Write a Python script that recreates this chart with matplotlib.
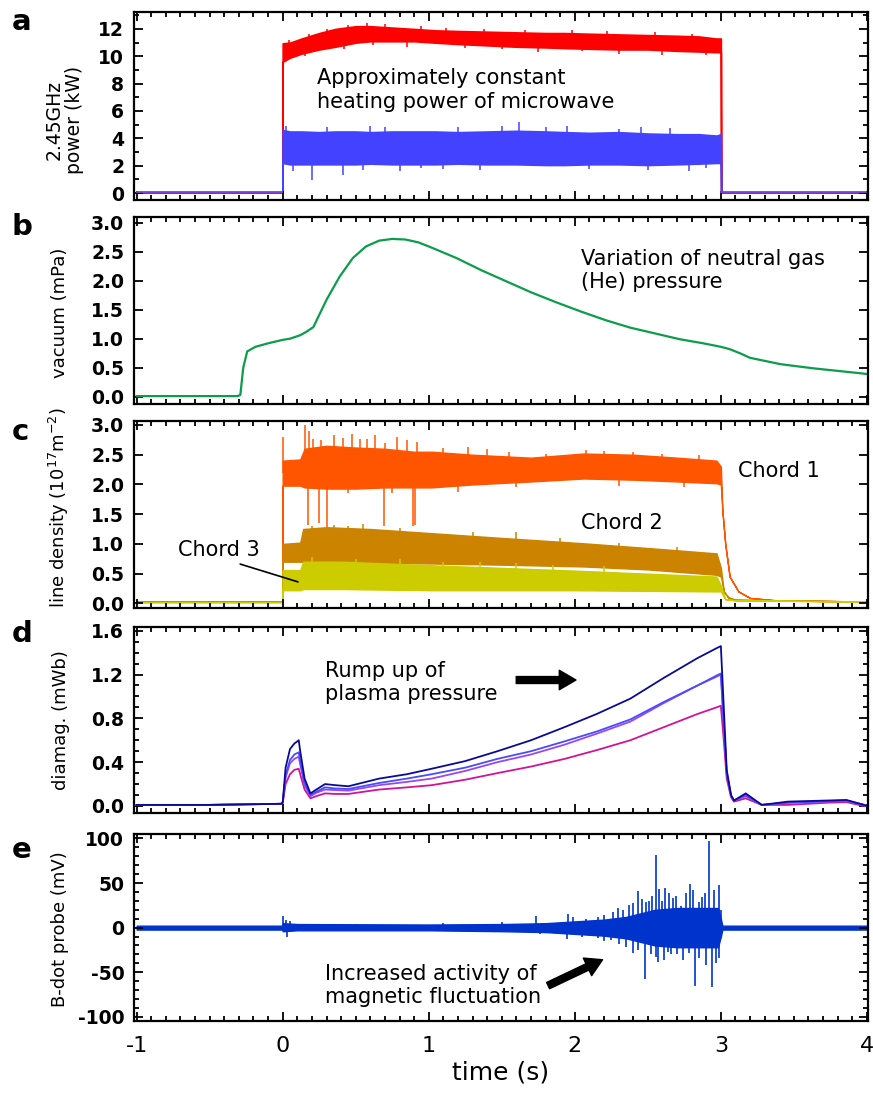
import numpy as np
import matplotlib.pyplot as plt
from matplotlib.ticker import MultipleLocator, FormatStrFormatter

plt.rcParams['font.family'] = ['DejaVu Sans']
plt.rcParams['axes.unicode_minus'] = False

W, H = 873, 1100

# ---------------- a: 2.45 GHz microwave power (kW) ----------------
a_t = [-1.0, -0.002, 0.0, 0.05, 0.13, 0.25, 0.36, 0.5, 0.6, 0.75, 0.9, 1.04, 1.2, 1.4,
       1.6, 1.8, 1.93, 2.1, 2.3, 2.5, 2.7, 2.85, 2.97, 3.0, 3.002, 4.0]
red_lo = [0.05, 0.05, 9.6, 9.9, 10.2, 10.5, 10.7, 11.0, 11.1, 11.1, 11.1, 11.0, 10.9, 10.8,
          10.7, 10.65, 10.6, 10.55, 10.5, 10.5, 10.4, 10.35, 10.3, 10.3, 0.05, 0.05]
red_hi = [0.05, 0.05, 10.95, 11.0, 11.3, 11.7, 12.0, 12.2, 12.2, 12.1, 12.0, 11.9, 11.85, 11.8,
          11.75, 11.7, 11.7, 11.65, 11.6, 11.55, 11.5, 11.45, 11.3, 11.3, 0.05, 0.05]
blue_lo = [0.05, 0.05, 2.2, 2.1, 2.1, 2.1, 2.1, 2.1, 2.15, 2.1, 2.1, 2.1, 2.15, 2.1,
           2.1, 2.05, 2.05, 2.1, 2.1, 2.05, 2.1, 2.15, 2.2, 2.2, 0.05, 0.05]
blue_hi = [0.05, 0.05, 4.6, 4.5, 4.5, 4.45, 4.5, 4.5, 4.45, 4.5, 4.5, 4.5, 4.45, 4.5,
           4.55, 4.5, 4.45, 4.4, 4.45, 4.35, 4.3, 4.3, 4.2, 4.3, 0.05, 0.05]
red_spk_t = [0.04, 0.08, 0.18, 0.3, 0.45, 0.58, 0.7, 0.95, 1.25, 1.5, 1.75, 2.05, 2.3, 2.6,
             2.9, 0.15, 0.42, 0.62, 0.85, 1.12, 1.38, 1.66, 1.98, 2.22, 2.55, 2.8]
red_spk_v = [11.2, 10.0, 11.6, 12.0, 12.3, 12.4, 12.35, 12.2, 10.6, 10.5, 10.3, 10.4, 10.2, 10.1,
             10.1, 10.0, 10.5, 10.8, 10.7, 12.1, 12.0, 11.95, 11.9, 11.85, 11.8, 11.65]
blue_spk_t = [0.02, 0.07, 0.2, 0.41, 0.55, 0.6, 0.8, 1.1, 1.2, 1.62, 1.95, 2.45, 2.5, 2.78,
              0.3, 0.7, 0.95, 1.35, 1.5, 1.8, 2.1, 2.3, 2.65, 2.9]
blue_spk_v = [4.9, 1.6, 0.95, 1.3, 1.7, 4.9, 1.6, 1.75, 4.8, 5.2, 4.9, 4.85, 1.7, 1.6,
              4.8, 4.85, 1.8, 1.7, 4.9, 4.8, 1.75, 4.7, 4.75, 1.8]

# ---------------- b: neutral gas pressure (mPa) ----------------
b_t = [-1.0, -0.5, -0.31, -0.29, -0.27, -0.243, -0.187, -0.1, 0.0, 0.05, 0.12, 0.163, 0.21,
       0.3, 0.39, 0.48, 0.57, 0.66, 0.75, 0.84, 0.93, 1.02, 1.19, 1.36, 1.53, 1.70, 1.87,
       2.04, 2.21, 2.38, 2.55, 2.72, 2.88, 3.0, 3.06, 3.13, 3.2, 3.41, 3.63, 3.97, 4.0]
b_v = [0.01, 0.01, 0.01, 0.03, 0.5, 0.78, 0.86, 0.92, 0.98, 1.0, 1.06, 1.12, 1.2,
       1.67, 2.07, 2.39, 2.59, 2.69, 2.72, 2.71, 2.66, 2.57, 2.39, 2.18, 1.99, 1.80, 1.63,
       1.47, 1.32, 1.19, 1.09, 0.99, 0.92, 0.86, 0.82, 0.75, 0.67, 0.56, 0.49, 0.40, 0.39]

# ---------------- c: line density (1e17 m^-2) ----------------
c1_t = [-1.0, -0.002, 0.0, 0.12, 0.15, 0.3, 0.5, 0.7, 0.9, 1.02, 1.3, 1.7, 2.06, 2.4, 2.7,
        2.97, 3.0, 3.01, 3.03, 3.06, 3.12, 3.2, 3.38, 4.0]
c1_lo = [0.03, 0.03, 1.98, 1.98, 1.95, 1.93, 1.93, 1.95, 1.95, 1.95, 2.0, 2.05, 2.10, 2.08,
         2.05, 2.02, 2.0, 1.57, 1.0, 0.45, 0.2, 0.09, 0.05, 0.03]
c1_hi = [0.03, 0.03, 2.40, 2.42, 2.6, 2.65, 2.62, 2.6, 2.55, 2.55, 2.5, 2.45, 2.52, 2.5,
         2.45, 2.40, 2.3, 1.57, 1.0, 0.45, 0.2, 0.09, 0.05, 0.03]
c1_spk_t = [0.0, 0.151, 0.183, 0.21, 0.35, 0.473, 0.53, 0.63, 0.78, 0.92, 1.27, 1.55, 2.076,
            2.4, 0.173, 0.25, 0.30, 0.696, 0.893, 0.905,
            0.26, 0.41, 0.58, 0.7, 0.85, 1.1, 1.4, 1.8, 2.2, 2.6, 2.85,
            0.45, 0.75, 1.2, 1.6, 2.3, 2.75]
c1_spk_v = [2.80, 3.0, 2.9, 2.77, 2.83, 2.84, 2.77, 2.83, 2.8, 2.72, 2.63, 2.55, 2.58,
            2.55, 1.32, 1.35, 1.28, 1.3, 1.3, 1.32,
            2.75, 2.78, 2.76, 2.7, 2.74, 2.62, 2.6, 2.52, 2.56, 2.52, 2.5,
            1.85, 1.85, 1.88, 1.95, 1.98, 1.95]
c2_t = [-1.0, -0.002, 0.0, 0.12, 0.14, 0.3, 0.6, 1.02, 1.5, 2.06, 2.5, 2.97, 3.0, 3.02,
        3.05, 3.1, 4.0]
c2_lo = [0.03, 0.03, 0.70, 0.70, 0.70, 0.68, 0.68, 0.67, 0.65, 0.62, 0.57, 0.48, 0.45, 0.2,
         0.1, 0.06, 0.03]
c2_hi = [0.03, 0.03, 1.0, 1.02, 1.25, 1.28, 1.25, 1.18, 1.10, 1.01, 0.93, 0.84, 0.6, 0.2,
         0.1, 0.06, 0.03]
c2_spk_t = [0.2, 0.45, 0.55, 1.6, 0.35, 0.8, 1.3, 1.9, 2.3, 2.7]
c2_spk_v = [1.3, 1.3, 1.33, 1.2, 1.32, 1.27, 1.2, 1.1, 1.02, 0.95]
c3_t = [-1.0, -0.002, 0.0, 0.12, 0.14, 0.4, 1.02, 2.0, 2.97, 3.0, 3.03, 3.1, 4.0]
c3_lo = [0.02, 0.02, 0.22, 0.22, 0.24, 0.24, 0.22, 0.22, 0.2, 0.2, 0.07, 0.05, 0.03]
c3_hi = [0.02, 0.02, 0.56, 0.56, 0.70, 0.70, 0.64, 0.55, 0.45, 0.3, 0.07, 0.05, 0.03]
c3_spk_t = [0.2, 0.5, 1.1, 1.6, 2.2, 0.8, 1.35, 1.85]
c3_spk_v = [0.78, 0.75, 0.70, 0.68, 0.62, 0.74, 0.7, 0.64]

# ---------------- d: diamagnetic flux (mWb) ----------------
d_t = [-1.0, -0.5, -0.01, 0.0, 0.02, 0.05, 0.08, 0.11, 0.12, 0.15, 0.19, 0.23, 0.29, 0.36,
       0.45, 0.66, 0.85, 1.02, 1.25, 1.47, 1.7, 1.93, 2.15, 2.38, 2.61, 2.84, 2.97, 3.0,
       3.02, 3.04, 3.07, 3.09, 3.17, 3.28, 3.46, 3.73, 3.86, 3.98, 4.0]
d_navy = [0.01, 0.01, 0.02, 0.03, 0.35, 0.52, 0.57, 0.60, 0.50, 0.25, 0.115, 0.15, 0.20, 0.19,
          0.18, 0.25, 0.29, 0.34, 0.41, 0.50, 0.60, 0.72, 0.84, 0.98, 1.17, 1.35, 1.44, 1.46,
          0.90, 0.33, 0.10, 0.05, 0.115, 0.01, 0.04, 0.05, 0.055, 0.01, 0.0]
d_blue = [0.01, 0.01, 0.02, 0.03, 0.28, 0.42, 0.47, 0.49, 0.41, 0.21, 0.10, 0.13, 0.17, 0.16,
          0.155, 0.21, 0.25, 0.29, 0.35, 0.43, 0.50, 0.59, 0.68, 0.79, 0.95, 1.10, 1.19, 1.21,
          0.75, 0.30, 0.09, 0.05, 0.10, 0.01, 0.03, 0.045, 0.05, 0.01, 0.0]
d_violet = [0.01, 0.01, 0.02, 0.03, 0.26, 0.39, 0.43, 0.45, 0.38, 0.19, 0.09, 0.12, 0.15, 0.145,
            0.14, 0.19, 0.22, 0.25, 0.32, 0.40, 0.47, 0.56, 0.66, 0.77, 0.94, 1.10, 1.18, 1.20,
            0.75, 0.30, 0.09, 0.05, 0.09, 0.01, 0.03, 0.04, 0.045, 0.01, 0.0]
d_magenta = [0.01, 0.01, 0.02, 0.03, 0.20, 0.29, 0.33, 0.34, 0.29, 0.15, 0.07, 0.09, 0.115, 0.11,
             0.11, 0.15, 0.17, 0.19, 0.24, 0.30, 0.36, 0.43, 0.51, 0.60, 0.72, 0.84, 0.90, 0.915,
             0.60, 0.25, 0.08, 0.04, 0.07, 0.01, 0.01, 0.03, 0.035, 0.0, 0.0]

# ---------------- e: B-dot probe (mV) ----------------
e_t = [-1.0, -0.002, 0.0, 0.1, 1.0, 1.5, 1.8, 2.0, 2.2, 2.35, 2.45, 2.55, 2.7, 2.85, 2.98,
       3.0, 3.01, 4.0]
e_lo = [-2.2, -2.2, -4, -3, -3, -4, -5, -7, -9, -12, -16, -20, -22, -22, -22, -10, -2.2, -2.2]
e_hi = [2.2, 2.2, 5, 4, 3.5, 4, 5, 7, 9, 12, 16, 20, 22, 22, 22, 10, 2.2, 2.2]
e_spk_t = [0.0, 0.02, 0.05, 0.5, 1.1, 1.5, 1.735, 1.951, 1.985, 2.08, 2.156, 2.293, 2.33, 2.40,
           2.433, 2.49, 2.531, 2.554, 2.577, 2.60, 2.645, 2.675, 2.73, 2.759, 2.788, 2.81,
           2.85, 2.89, 2.922, 2.95, 2.986, 3.0, 2.2, 2.26, 2.37, 2.46, 2.51, 2.62, 2.69, 2.87,
           0.03, 1.765, 1.95, 2.16, 2.25, 2.35, 2.43, 2.479, 2.52, 2.554, 2.61, 2.64, 2.70,
           2.742, 2.78, 2.82, 2.85, 2.88, 2.94, 2.99, 2.05, 2.2, 2.3, 2.4, 2.57, 2.66, 2.9, 2.97]
e_spk_v = [13, 9, 7, 4, 5, 6, 13, 15, 12, 10, 12, 22, 20, 28,
           41, 29, 35, 82, 43, 30, 39, 33, 24, 39, 49, 42,
           29, 39, 97, 42, 48, 20, 14, 17, 25, 32, 30, 45, 36, 34,
           -10, -7, -13, -12, -14, -22, -25, -58, -30, -33, -36, -27, -30,
           -36, -28, -66, -34, -23, -67, -34, -11, -15, -18, -28, -38, -30, -42, -40]

# ---------------- layout ----------------
fig = plt.figure(figsize=(W / 100, H / 100), dpi=100)
left, right = 134, 867.5
boxes = [(12, 200), (217, 404), (421, 608), (627, 813), (834, 1021)]
axes = []
for top, bot in boxes:
    ax = fig.add_axes([left / W, 1 - bot / H, (right - left) / W, (bot - top) / H])
    ax.set_xlim(-1.018, 4.004)
    ax.xaxis.set_major_locator(MultipleLocator(1))
    ax.xaxis.set_minor_locator(MultipleLocator(0.1))
    ax.tick_params(which='both', direction='in', top=True, right=True, width=1.3)
    ax.tick_params(which='major', length=6.5)
    ax.tick_params(which='minor', length=3.5)
    ax.tick_params(axis='y', labelsize=13.5, pad=7)
    for s in ax.spines.values():
        s.set_linewidth(1.6)
    if bot != 1021:
        ax.tick_params(axis='x', labelbottom=False)
    axes.append(ax)
ax_a, ax_b, ax_c, ax_d, ax_e = axes


def band(ax, t, lo, hi, color, spk_t=None, spk_v=None, lw=1.0):
    ax.fill_between(t, lo, hi, facecolor=color, edgecolor=color, linewidth=lw)
    if spk_t is not None:
        mid = np.interp(spk_t, t, (np.array(lo) + np.array(hi)) / 2)
        ax.vlines(spk_t, mid, spk_v, color=color, linewidth=1.1)


# a
band(ax_a, a_t, red_lo, red_hi, '#ff0000', red_spk_t, red_spk_v, lw=1.2)
band(ax_a, a_t, blue_lo, blue_hi, '#4242ff', blue_spk_t, blue_spk_v, lw=1.2)
ax_a.plot([-1.0, -0.002], [0.05, 0.05], color='#8a3fd0', lw=1.3)
ax_a.plot([3.002, 4.0], [0.05, 0.05], color='#8a3fd0', lw=1.3)
ax_a.set_ylim(-0.51, 13.24)
ax_a.yaxis.set_major_locator(MultipleLocator(2))
ax_a.yaxis.set_minor_locator(MultipleLocator(1))
ax_a.yaxis.set_major_formatter(FormatStrFormatter('%d'))
ax_a.text(0.235, 7.53, 'Approximately constant\nheating power of microwave',
          fontsize=15, ha='left', va='center')

# b
ax_b.plot(b_t, b_v, color='#0c9c4c', lw=1.6)
ax_b.set_ylim(-0.126, 3.098)
ax_b.yaxis.set_major_locator(MultipleLocator(0.5))
ax_b.yaxis.set_major_formatter(FormatStrFormatter('%.1f'))
ax_b.text(2.042, 2.18, 'Variation of neutral gas\n(He) pressure',
          fontsize=15, ha='left', va='center')

# c
band(ax_c, c1_t, c1_lo, c1_hi, '#ff5500', c1_spk_t, c1_spk_v)
band(ax_c, c2_t, c2_lo, c2_hi, '#cc8400', c2_spk_t, c2_spk_v)
band(ax_c, c3_t, c3_lo, c3_hi, '#cccc00', c3_spk_t, c3_spk_v)
ax_c.set_ylim(-0.079, 3.067)
ax_c.yaxis.set_major_locator(MultipleLocator(0.5))
ax_c.yaxis.set_major_formatter(FormatStrFormatter('%.1f'))
ax_c.text(3.12, 2.22, 'Chord 1', fontsize=15, ha='left', va='center')
ax_c.text(2.04, 1.35, 'Chord 2', fontsize=15, ha='left', va='center')
ax_c.text(-0.72, 0.90, 'Chord 3', fontsize=15, ha='left', va='center')
ax_c.annotate('', xy=(0.105, 0.36), xytext=(-0.291, 0.66),
              arrowprops=dict(arrowstyle='-', color='k', lw=1.2, shrinkA=0, shrinkB=0))

# d
ax_d.plot(d_t, d_magenta, color='#d0139c', lw=1.3)
ax_d.plot(d_t, d_violet, color='#9a48ee', lw=1.3)
ax_d.plot(d_t, d_blue, color='#4a4aff', lw=1.3)
ax_d.plot(d_t, d_navy, color='#0a0a96', lw=1.3)
ax_d.set_ylim(-0.064, 1.634)
ax_d.yaxis.set_major_locator(MultipleLocator(0.4))
ax_d.yaxis.set_minor_locator(MultipleLocator(0.1))
ax_d.yaxis.set_major_formatter(FormatStrFormatter('%.1f'))
ax_d.text(0.29, 1.127, 'Rump up of\nplasma pressure', fontsize=15, ha='left', va='center')
arrow_style = 'simple,head_length=0.6,head_width=0.7,tail_width=0.25'
ax_d.annotate('', xy=(2.008, 1.15), xytext=(1.599, 1.15),
              arrowprops=dict(arrowstyle=arrow_style, color='k', mutation_scale=20,
                              shrinkA=0, shrinkB=0))

# e
band(ax_e, e_t, e_lo, e_hi, '#0033cc', lw=1.0)
ax_e.vlines(e_spk_t, 0, e_spk_v, color='#0033cc', linewidth=1.2)
ax_e.set_ylim(-104.7, 105)
ax_e.yaxis.set_major_locator(MultipleLocator(50))
ax_e.yaxis.set_minor_locator(MultipleLocator(10))
ax_e.yaxis.set_major_formatter(FormatStrFormatter('%d'))
ax_e.text(0.289, -64.8, 'Increased activity of\nmagnetic fluctuation',
          fontsize=15, ha='left', va='center')
ax_e.annotate('', xy=(2.19, -36), xytext=(1.817, -65),
              arrowprops=dict(arrowstyle=arrow_style, color='k', mutation_scale=20,
                              shrinkA=0, shrinkB=0))
ax_e.tick_params(axis='x', labelsize=16, pad=11)
ax_e.set_xlabel('time (s)', fontsize=18, labelpad=3)

for ax in axes:
    for lbl in ax.get_yticklabels():
        lbl.set_fontweight('bold')

# y labels and panel letters (pixel positions)
ylabels = [('2.45GHz\npower (kW)', 64.5, 119.5, 13.5),
           ('vacuum (mPa)', 60, 313, 13),
           ('line density (10$^{17}$m$^{-2}$)', 59, 508, 13),
           ('diamag. (mWb)', 61.5, 720, 13),
           ('B-dot probe (mV)', 60, 929.5, 13)]
for txt, x, y, fs in ylabels:
    fig.text(x / W, 1 - y / H, txt, rotation=90, ha='center', va='center',
             fontsize=fs, multialignment='center', linespacing=1.1)

for letter, y in zip('abcde', [30, 235, 440, 642, 858]):
    fig.text(12 / W, 1 - y / H, letter, fontsize=21, fontweight='bold',
             ha='left', va='baseline')

fig.savefig('out.png', dpi=100)
